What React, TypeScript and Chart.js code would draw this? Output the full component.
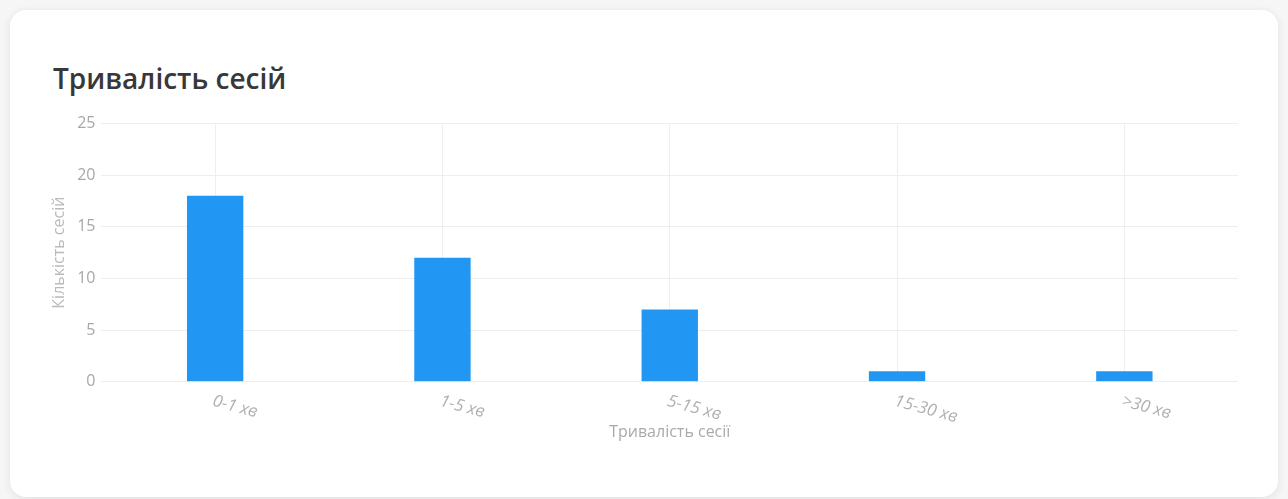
import React, { useEffect, useRef } from "react";
import { Chart, registerables } from "chart.js";

Chart.register(...registerables);

const categories = ["0-1 хв", "1-5 хв", "5-15 хв", "15-30 хв", ">30 хв"];
const sessionCounts = [18, 12, 7, 1, 1];
const yTickMax = 25;
const yTickStep = 5;
const chartTitle = "Тривалість сесій";
const xAxisTitle = "Тривалість сесії";
const yAxisTitle = "Кількість сесій";

const FONT = "'Open Sans', 'Noto Sans', sans-serif";

const slantedLabels = {
  id: "slantedLabels",
  afterDraw(chart: any) {
    const xs = chart.scales.x;
    const ctx = chart.ctx;
    ctx.save();
    ctx.font = `italic 17px ${FONT}`;
    ctx.fillStyle = "#b0b0b0";
    ctx.textAlign = "left";
    ctx.textBaseline = "top";
    categories.forEach((lab, i) => {
      const x = xs.getPixelForTick(i);
      const y = xs.top + 11;
      ctx.save();
      ctx.translate(x, y);
      ctx.rotate((15 * Math.PI) / 180);
      ctx.fillText(lab, 0, 0);
      ctx.restore();
    });
    ctx.restore();
  },
};

export default function App() {
  const ref = useRef<HTMLCanvasElement | null>(null);
  useEffect(() => {
    if (!ref.current) return;
    const chart = new Chart(ref.current, {
      type: "bar",
      data: {
        labels: categories,
        datasets: [
          {
            label: yAxisTitle,
            data: sessionCounts,
            backgroundColor: "#2196F3",
            borderWidth: 0,
            barPercentage: 0.31,
            categoryPercentage: 0.8,
          },
        ],
      },
      options: {
        animation: false,
        responsive: true,
        maintainAspectRatio: false,
        layout: { padding: { top: 6, right: 0, left: 0, bottom: 0 } },
        plugins: {
          legend: { display: false },
          tooltip: { enabled: false },
        },
        scales: {
          x: {
            grid: { display: true, offset: false, color: "#eeeeee", drawTicks: false },
            border: { display: false },
            ticks: {
              color: "rgba(0,0,0,0)",
              font: { family: FONT, size: 15, style: "italic" },
              minRotation: 15,
              maxRotation: 15,
              padding: 4.5,
            },
            title: {
              display: true,
              text: xAxisTitle,
              color: "#aaaaaa",
              font: { family: FONT, size: 16 },
              padding: { top: 0, bottom: 4 },
            },
          },
          y: {
            min: 0,
            max: yTickMax,
            grid: { color: "#eeeeee", drawTicks: false },
            border: { display: false },
            ticks: {
              stepSize: yTickStep,
              color: "#a8a8a8",
              font: { family: FONT, size: 16 },
              padding: 6,
            },
            title: {
              display: true,
              text: yAxisTitle,
              color: "#bbbbbb",
              font: { family: FONT, size: 16 },
              padding: { top: 0, bottom: 2 },
            },
          },
        },
      },
      plugins: [slantedLabels],
    });
    return () => chart.destroy();
  }, []);

  return (
    <div
      style={{
        position: "fixed",
        inset: 0,
        background: "#f6f6f6",
        fontFamily: FONT,
      }}
    >
      <div
        style={{
          position: "absolute",
          left: 10,
          top: 10,
          width: 1268,
          height: 487,
          background: "#ffffff",
          borderRadius: 16,
          boxShadow: "0 2px 10px rgba(0,0,0,0.09)",
        }}
      >
        <div
          style={{
            position: "absolute",
            left: 43,
            top: 48,
            fontSize: 28,
            fontWeight: 600,
            color: "#383838",
            lineHeight: "40px",
          }}
        >
          {chartTitle}
        </div>
        <div
          style={{
            position: "absolute",
            left: 40,
            top: 98,
            width: 1188,
            height: 338,
          }}
        >
          <canvas ref={ref} />
        </div>
      </div>
    </div>
  );
}
